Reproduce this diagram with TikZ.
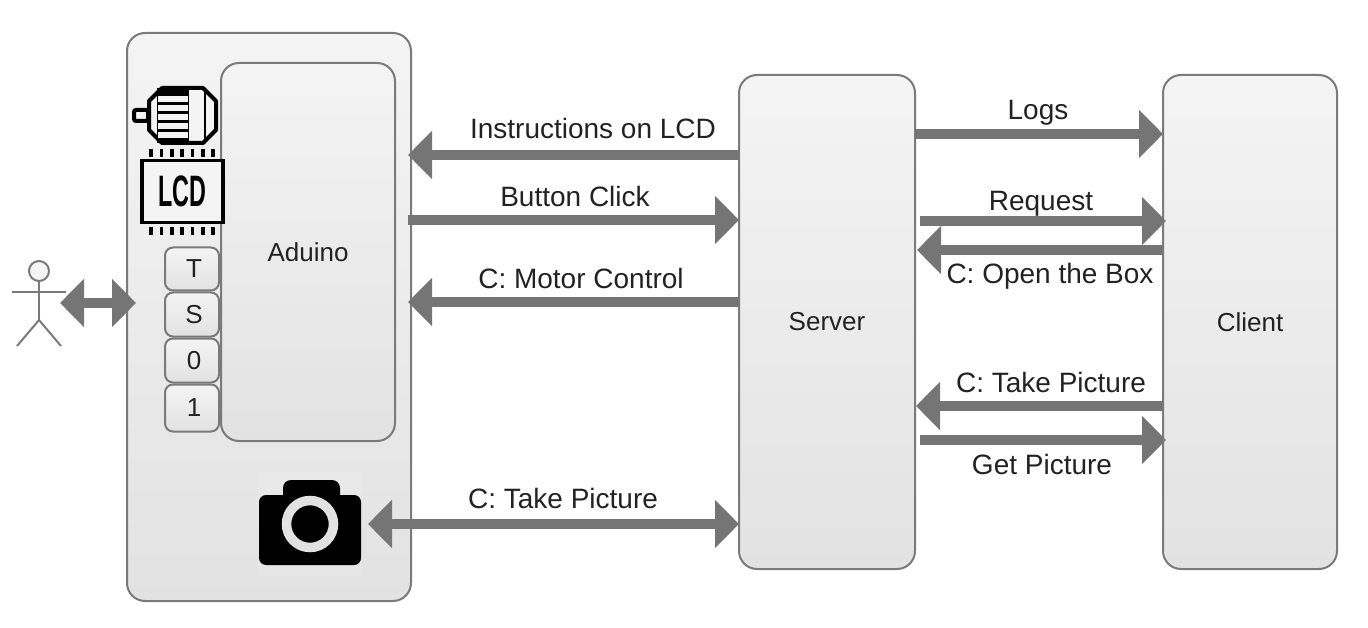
\documentclass[tikz,border=0pt]{standalone}
\usepackage{fontspec}
\setmainfont{Liberation Sans}
\usetikzlibrary{shapes,arrows.meta,positioning,calc}
\definecolor{edgegrey}{HTML}{7A7A7A}
\definecolor{arrowgrey}{HTML}{757575}
\definecolor{boxtop}{HTML}{F4F4F4}
\definecolor{boxbottom}{HTML}{E2E2E2}
\definecolor{inktext}{HTML}{222222}

\begin{document}
\begin{tikzpicture}[
    x=1pt, y=-1pt,
    node distance=2pt,
    box/.style={rectangle, draw=edgegrey, line width=2pt, rounded corners=18pt,
                top color=boxtop, bottom color=boxbottom, inner sep=0pt, outer sep=0pt,
                text=inktext, align=center, font=\fontsize{26}{30}\selectfont},
    keybox/.style={box, rounded corners=8pt, minimum width=54pt, minimum height=44pt},
    lbl/.style={text=inktext, inner sep=0pt, font=\fontsize{28}{30}\selectfont},
    bigarrow/.style={draw=arrowgrey, line width=10.5pt, -{Triangle[length=24pt,width=47pt]}},
    twoarrow/.style={draw=arrowgrey, line width=10.5pt,
                     {Triangle[length=24pt,width=47pt]}-{Triangle[length=24pt,width=47pt]}},
    stick/.style={draw=edgegrey, line width=2pt},
    pin/.style={draw=black, line width=3.5pt}
]
    \useasboundingbox (0,0) rectangle (1368,628);

    \node[box, minimum width=284pt, minimum height=568pt] (board) at (269,317) {};
    \node[box, minimum width=174pt, minimum height=378pt] (aduino) at (308,252) {Aduino};
    \node[box, minimum width=176pt, minimum height=494pt] (server) at (827,322) {Server};
    \node[box, minimum width=174pt, minimum height=494pt] (client) at (1250,322) {Client};

    \node[keybox, minimum height=43pt] (keyt) at (192,269) {\hspace*{4pt}T};
    \node[keybox, below=2pt of keyt] (keys) {\hspace*{4pt}S};
    \node[keybox, below=2pt of keys] (keyzero) {\hspace*{4pt}0};
    \node[keybox, minimum height=47pt, below=2pt of keyzero] (keyone) {\hspace*{4pt}1};

    % person
    \node[circle, stick, fill=boxtop, minimum size=20pt, inner sep=0pt, outer sep=0pt] (head) at (39,271) {};
    \coordinate (hip) at (39,320);
    \coordinate (handl) at (12,292);
    \coordinate (handr) at (66,292);
    \coordinate (footl) at (17,346);
    \coordinate (footr) at (61,346);
    \draw[stick] (head.south) -- (hip);
    \draw[stick] (handl) -- (handr);
    \draw[stick] (footl) -- (hip) -- (footr);

    % motor
    \draw[fill=boxtop, draw=black, line width=4pt, rounded corners=2pt]
        (134,110) rectangle (148,121);
    \draw[fill=boxtop, draw=black, line width=4pt, line join=round]
        (162,88) -- (203,88) -- (216,101) -- (216,130) -- (203,143) -- (162,143) -- (149,130) -- (149,101) -- cycle;
    \fill[black] (157,88) rectangle (189,143);
    \foreach \ypos in {96,105,114,123,132}
        \fill[boxtop] (158,\ypos) rectangle (188,\ypos+6.5);
    \draw[black, line width=2.5pt] (205,92) -- (205,139);

    % lcd
    \node[draw=black, fill=boxtop, line width=3.5pt, inner sep=0pt, outer sep=0pt,
          minimum width=81pt, minimum height=62pt] (lcd) at (182.5,191.5) {};
    \node[inner sep=0pt, font=\fontsize{44}{44}\bfseries\selectfont, xscale=0.53] (lcdtext) at (182,191) {LCD};
    \foreach \xpos in {151,161.5,172,182,192.5,203,213} {
        \draw[pin] (\xpos,149) -- (\xpos,157);
        \draw[pin] (\xpos,227) -- (\xpos,235);
    }

    % camera
    \fill[white, opacity=0.12] (258,472) rectangle (362,576);
    \fill[black, rounded corners=8pt] (283,480) rectangle (340,510);
    \node[fill=black, rounded corners=7pt, inner sep=0pt, outer sep=0pt,
          minimum width=102pt, minimum height=70pt] (camera) at (310,530) {};
    \node[circle, fill=black, draw=boxbottom, line width=9.5pt, inner sep=0pt, minimum size=47pt] (lens) at (310,524) {};

    \coordinate (personend) at (60,303);
    \coordinate (boardleft) at ($(board.west |- personend)+(9,0)$);
    \draw[twoarrow] (personend) -- (boardleft);

    \coordinate (lcdout) at ($(server.west |- 0,155)$);
    \coordinate (lcdin) at ($(board.east |- 0,155)+(-3,0)$);
    \draw[bigarrow] (lcdout) -- (lcdin);
    \node[lbl] (lcdlabel) at (593,128) {Instructions on LCD};

    \coordinate (clickout) at ($(board.east |- 0,220)+(-3,0)$);
    \coordinate (clickin) at ($(server.west |- 0,220)$);
    \draw[bigarrow] (clickout) -- (clickin);
    \node[lbl] (clicklabel) at (575,196) {Button Click};

    \coordinate (motorout) at ($(server.west |- 0,302)$);
    \coordinate (motorin) at ($(board.east |- 0,302)+(-3,0)$);
    \draw[bigarrow] (motorout) -- (motorin);
    \node[lbl] (motorlabel) at (581,278) {C: Motor Control};

    \coordinate (camleft) at (368,524);
    \coordinate (camright) at ($(server.west |- 0,524)$);
    \draw[twoarrow] (camleft) -- (camright);
    \node[lbl] (camlabel) at (563,498) {C: Take Picture};

    \coordinate (logout) at ($(server.east |- 0,134)$);
    \coordinate (login) at ($(client.west |- 0,134)$);
    \draw[bigarrow] (logout) -- (login);
    \node[lbl] (loglabel) at (1038,113) {Logs};

    \coordinate (reqout) at ($(server.east |- 0,221)+(5,0)$);
    \coordinate (reqin) at ($(client.west |- 0,221)+(3,0)$);
    \draw[bigarrow] (reqout) -- (reqin);
    \node[lbl] (reqlabel) at (1041,204) {Request};

    \coordinate (openout) at ($(client.west |- 0,250)$);
    \coordinate (openin) at ($(server.east |- 0,250)+(2,0)$);
    \draw[bigarrow] (openout) -- (openin);
    \node[lbl] (openlabel) at (1050,276) {C: Open the Box};

    \coordinate (takeout) at ($(client.west |- 0,406)$);
    \coordinate (takein) at ($(server.east |- 0,406)+(1,0)$);
    \draw[bigarrow] (takeout) -- (takein);
    \node[lbl] (takelabel) at (1051,382) {C: Take Picture};

    \coordinate (getout) at ($(server.east |- 0,440)+(5,0)$);
    \coordinate (getin) at ($(client.west |- 0,440)+(3,0)$);
    \draw[bigarrow] (getout) -- (getin);
    \node[lbl] (getlabel) at (1042,464) {Get Picture};
\end{tikzpicture}
\end{document}
